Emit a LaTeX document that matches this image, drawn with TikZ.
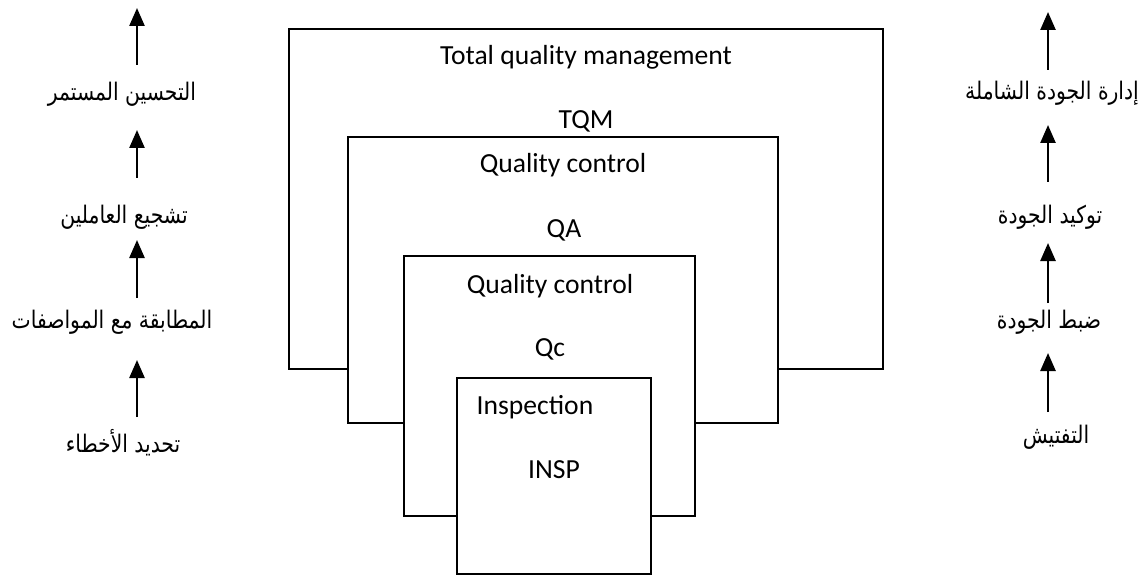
\documentclass[tikz,border=0pt]{standalone}
\usepackage{fontspec}
\setmainfont{Carlito}
\newfontfamily\arabicfont[Script=Arabic,FakeStretch=0.84]{DejaVu Sans}
\TeXXeTstate=1
\usetikzlibrary{arrows.meta}

\tikzset{
  box/.style={draw=black, line width=1.6pt, fill=white},
  lbl/.style={anchor=base, inner sep=0pt, font=\fontsize{27.6}{32}\selectfont},
  ar/.style={anchor=base, inner sep=0pt, font=\arabicfont\fontsize{24.2}{28}\selectfont},
  up/.style={line width=2.5pt, -{Triangle[length=18pt,width=15pt]}},
}

\begin{document}
\begin{tikzpicture}[x=1pt, y=-1pt]
\useasboundingbox (0,0) rectangle (1147,577);

% nested quality stages, each box covering the one behind it
\draw[box] (289,29) rectangle (883,369);
\draw[box] (348,137) rectangle (778,423);
\draw[box] (404,256) rectangle (695,516);
\draw[box] (457,378) rectangle (651,574);

\node[lbl] (tqmname) at (586,65)  {Total quality management};
\node[lbl] (tqm)     at (586,129) {TQM};
\node[lbl] (qaname)  at (563,173) {Quality control};
\node[lbl] (qa)      at (564,237) {QA};
\node[lbl] (qcname)  at (550,293) {Quality control};
\node[lbl] (qc)      at (550,356) {Qc};
\node[lbl] (inspname) at (535,414) {Inspection};
\node[lbl] (insp)    at (554,478) {INSP};

% left column: goals
\coordinate (colL) at (137,0);
\node[ar] (l1) at (122,101) {\beginR التحسين المستمر\endR};
\node[ar] (l2) at (124,223) {\beginR تشجيع العاملين\endR};
\node[ar] (l3) at (112,328) {\beginR المطابقة مع المواصفات\endR};
\node[ar] (l4) at (123,452) {\beginR تحديد الأخطاء\endR};
\coordinate (ltop) at (137,8);

\draw[up, shorten <=35pt, shorten >=32pt] (l4.base -| colL) -- (l3.base -| colL);
\draw[up, shorten <=30pt, shorten >=17pt] (l3.base -| colL) -- (l2.base -| colL);
\draw[up, shorten <=45pt, shorten >=29pt] (l2.base -| colL) -- (l1.base -| colL);
\draw[up, shorten <=36pt] (l1.base -| colL) -- (ltop);

% right column: stages
\coordinate (colR) at (1048,0);
\node[ar] (r1) at (1052,100) {\beginR إدارة الجودة الشاملة\endR};
\node[ar] (r2) at (1050,223) {\beginR توكيد الجودة\endR};
\node[ar] (r3) at (1049,328) {\beginR ضبط الجودة\endR};
\node[ar] (r4) at (1056,443) {\beginR التفتيش\endR};
\coordinate (rtop) at (1048,12);

\draw[up, shorten <=31pt, shorten >=25pt] (r4.base -| colR) -- (r3.base -| colR);
\draw[up, shorten <=25pt, shorten >=20pt] (r3.base -| colR) -- (r2.base -| colR);
\draw[up, shorten <=41pt, shorten >=25pt] (r2.base -| colR) -- (r1.base -| colR);
\draw[up, shorten <=30pt] (r1.base -| colR) -- (rtop);
\end{tikzpicture}
\end{document}
